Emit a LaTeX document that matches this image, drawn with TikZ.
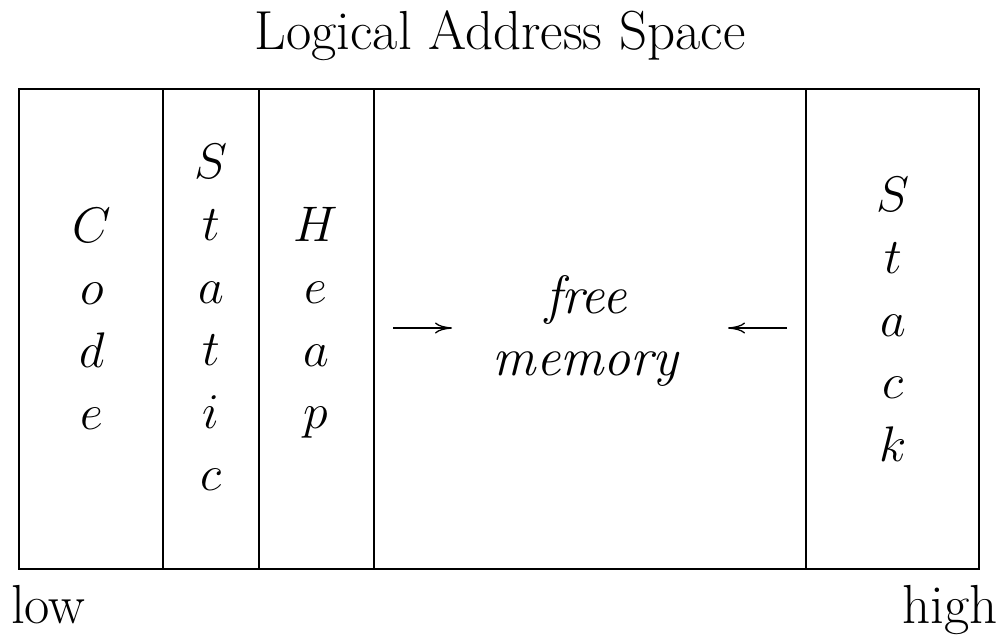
\RequirePackage{fix-cm}
\documentclass[tikz,border=0pt]{standalone}
\usetikzlibrary{arrows.meta}
\DeclareMathSizes{50}{50}{35}{25}
\DeclareMathSizes{54}{54}{38}{27}
\begin{document}
\begin{tikzpicture}[x=1pt,y=-1pt,
  big/.style={inner sep=0pt,font=\fontsize{50}{62.5}\selectfont},
  label/.style={inner sep=0pt,font=\fontsize{55}{62.5}\selectfont},
  freefont/.style={inner sep=0pt,font=\fontsize{54}{62}\selectfont},
  col/.style={big,anchor=base},
  frameline/.style={line width=1.8pt},
  divline/.style={line width=1.5pt},
  arr/.style={line width=1.3pt,-{Computer Modern Rightarrow[length=17pt,width=11pt]}}]
\useasboundingbox (0,0) rectangle (1000,635);
% title
\node[label,anchor=base] (title) at (500,49.5) {Logical Address Space};
% frame
\draw[frameline] (19,89) rectangle (979,569);
\coordinate (d1t) at (163,89);  \coordinate (d1b) at (163,569);
\coordinate (d2t) at (259,89);  \coordinate (d2b) at (259,569);
\coordinate (d3t) at (374,89);  \coordinate (d3b) at (374,569);
\coordinate (d4t) at (806,89);  \coordinate (d4b) at (806,569);
\draw[divline] (d1t) -- (d1b);
\draw[divline] (d2t) -- (d2b);
\draw[divline] (d3t) -- (d3b);
\draw[divline] (d4t) -- (d4b);
% column texts
\node[col] (code) at (92,242) {\begin{tabular}[t]{@{}c@{}}$C$\\$o$\\$d$\\$e$\end{tabular}};
\node[col] (static) at (211,178) {\begin{tabular}[t]{@{}c@{}}$S$\\$t$\\$a$\\$t$\\$i$\\$c$\end{tabular}};
\node[col] (heap) at (316,241) {\begin{tabular}[t]{@{}c@{}}$H$\\$e$\\$a$\\$p$\end{tabular}};
\node[freefont,anchor=base] (free) at (588,313) {\begin{tabular}[t]{@{}c@{}}$\mathit{free}$\\$\mathit{memory}$\end{tabular}};
\node[col] (stack) at (893,211) {\begin{tabular}[t]{@{}c@{}}$S$\\$t$\\$a$\\$c$\\$k$\end{tabular}};
% arrows
\coordinate (ra1) at (393,328); \coordinate (ra2) at (452,328);
\coordinate (la1) at (787,328); \coordinate (la2) at (728,328);
\draw[arr] (ra1) -- (ra2);
\draw[arr] (la1) -- (la2);
% low / high
\node[label,anchor=base west] (low) at (11,623) {low};
\node[label,anchor=base east] (high) at (998,623) {high};
\end{tikzpicture}
\end{document}
